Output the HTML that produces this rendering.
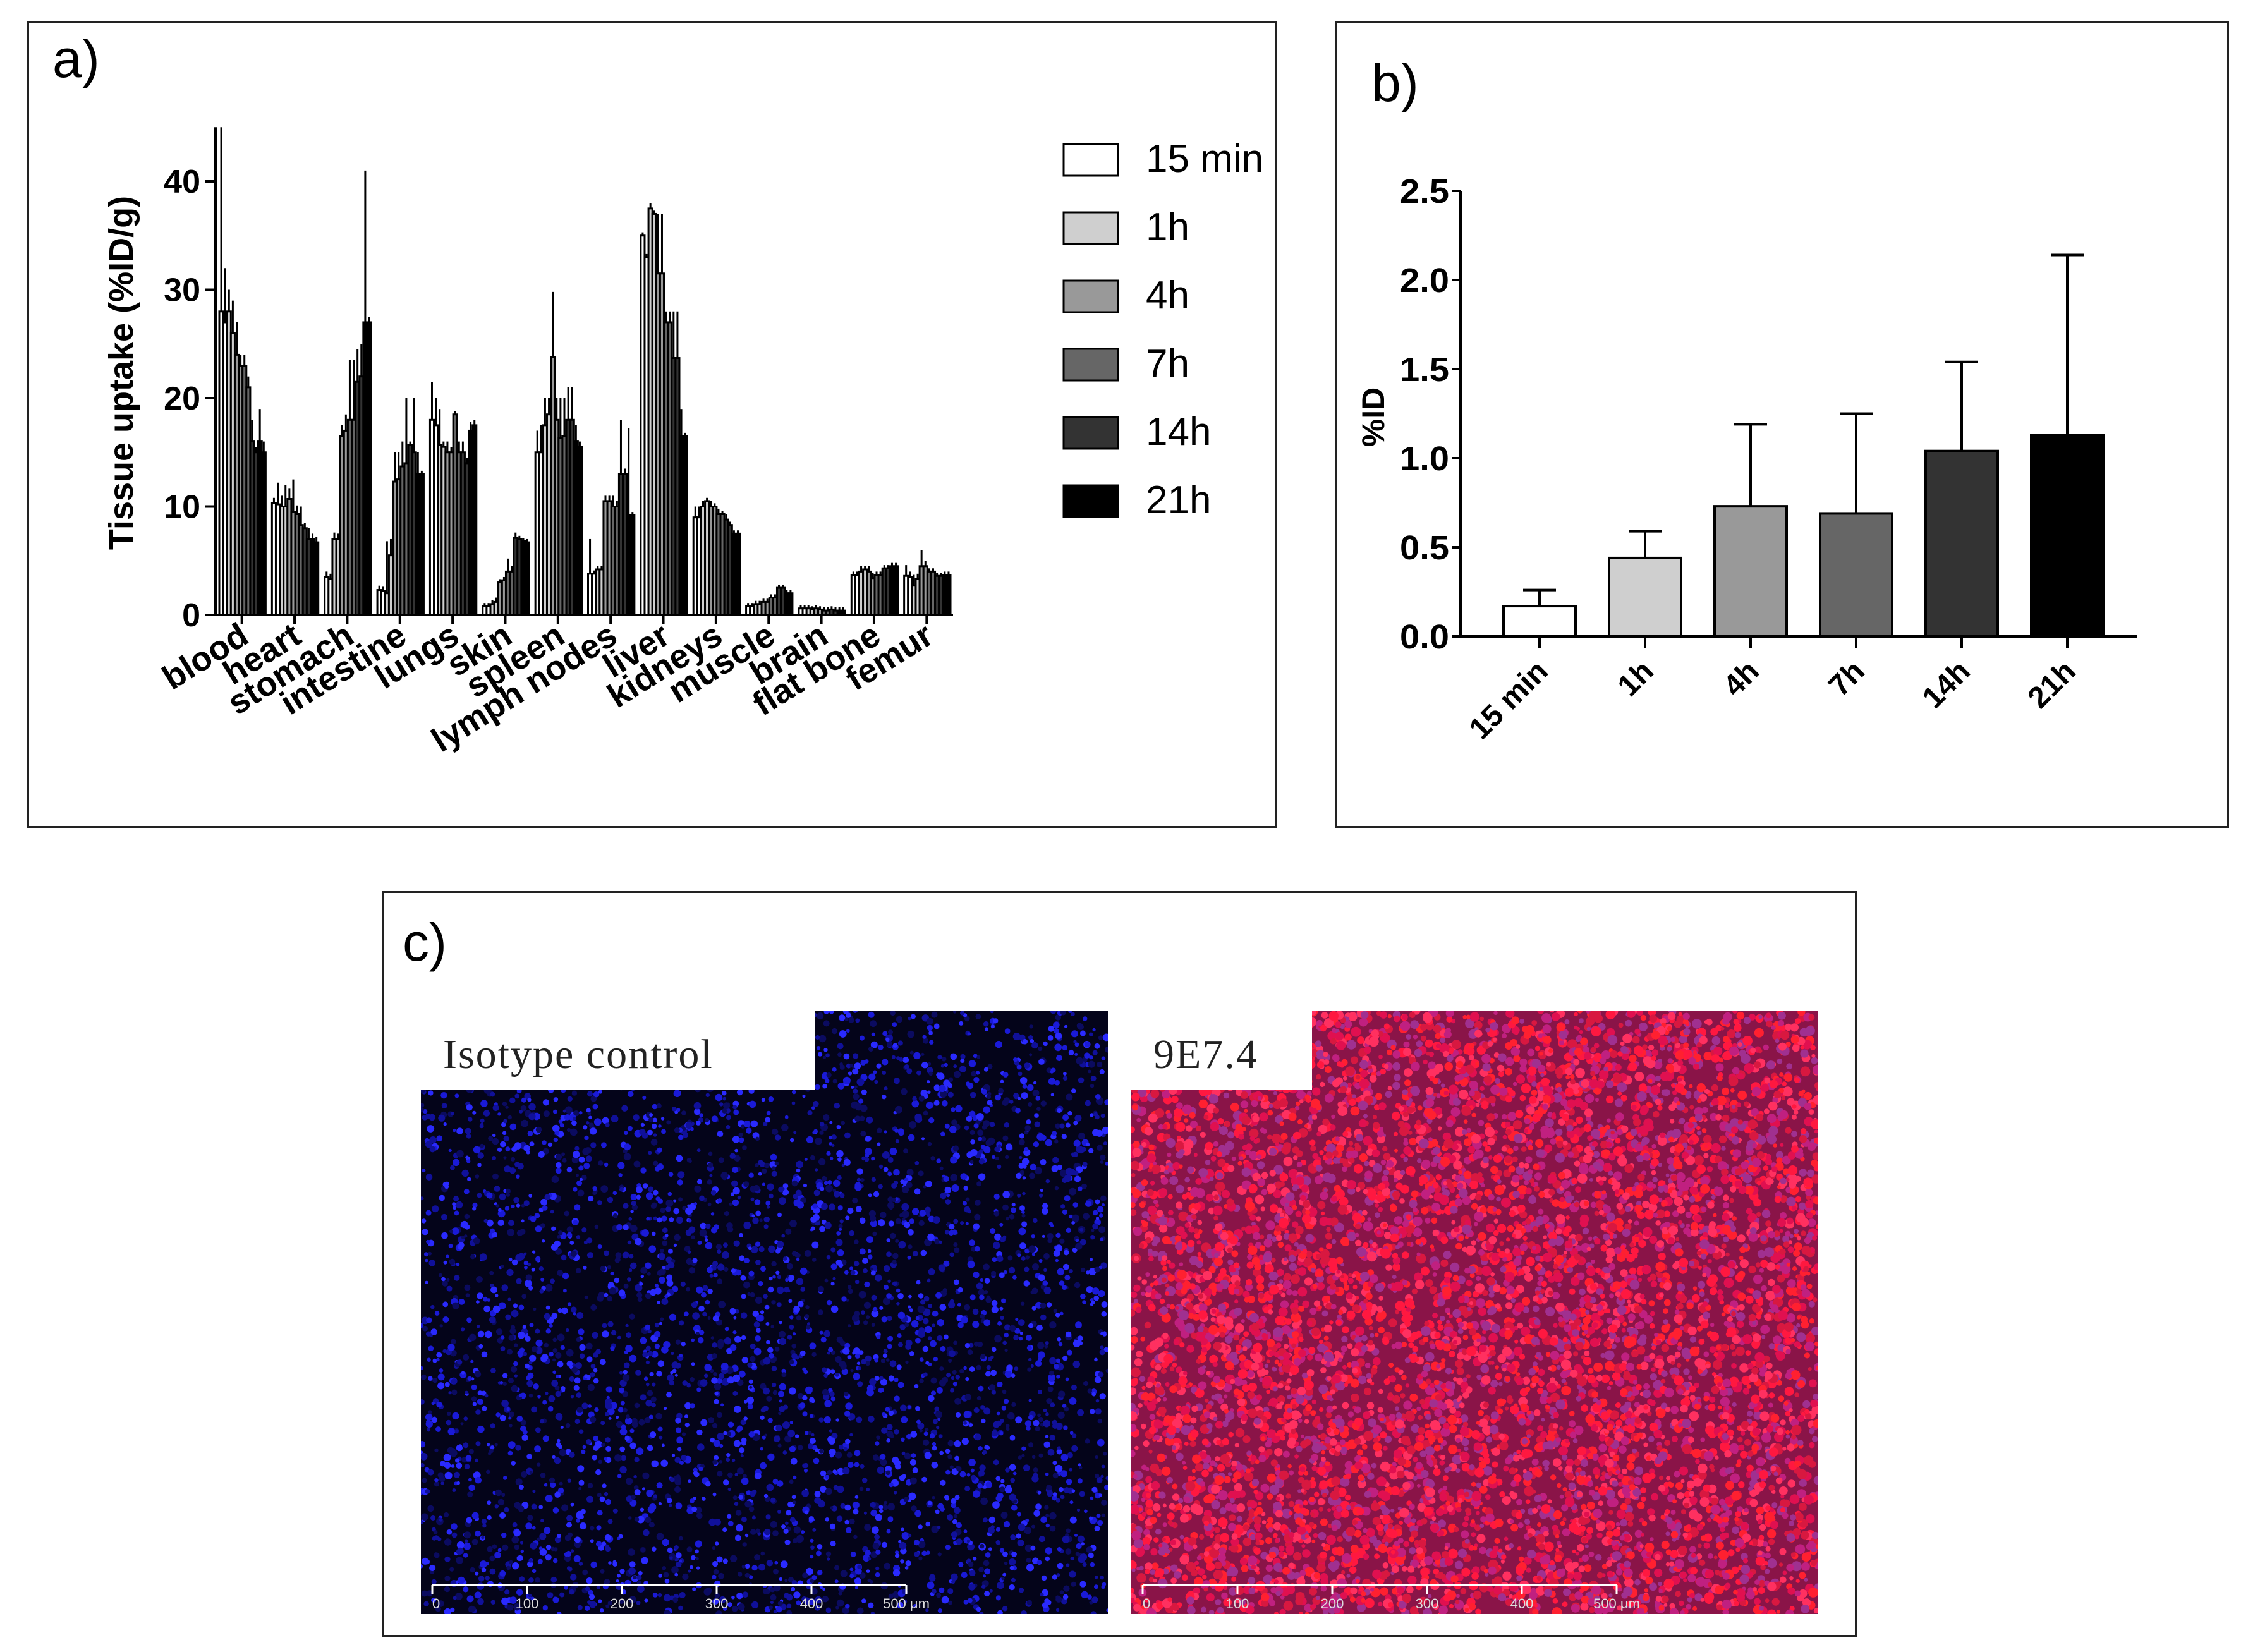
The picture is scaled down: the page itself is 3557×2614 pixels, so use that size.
<!DOCTYPE html>
<html><head><meta charset="utf-8"><style>
html,body{margin:0;padding:0;background:#fff;}
body{width:3557px;height:2614px;position:relative;overflow:hidden;font-family:"Liberation Sans",sans-serif;}
.panel{position:absolute;border:3px solid #222;box-sizing:border-box;background:#fff;}
</style></head><body>
<div class="panel" style="left:43px;top:34px;width:1977px;height:1276px;"></div>
<div class="panel" style="left:2113px;top:34px;width:1414px;height:1276px;"></div>
<div class="panel" style="left:605px;top:1410px;width:2333px;height:1180px;"></div>
<svg id="svg" width="3557" height="2614" style="position:absolute;left:0;top:0" xmlns="http://www.w3.org/2000/svg">
<defs>
<clipPath id="clipL"><rect x="666" y="1599" width="1087" height="955"/></clipPath>
<clipPath id="clipR"><rect x="1790" y="1599" width="1087" height="955"/></clipPath>
</defs>
</svg>
<script>
// ---- Panel a data ----
const organs = ["blood","heart","stomach","intestine","lungs","skin","spleen","lymph nodes","liver","kidneys","muscle","brain","flat bone","femur"];
const timepoints = ["15 min","1h","4h","7h","14h","21h"];
const vBlood=[28,27,28,26,24,23,23,21,16,15,16,15];
const eBlood=[17,5,2,3,3,1,1,1,2,0.5,3,1];
const vHeart=[10.3,10.2,10,10,10.7,9.5,9.3,8.3,8,7,7,6.7];
const eHeart=[0.5,2,1,2,1,3,0.8,1.7,0.5,1,0.5,0.5];
const vStomach=[3.5,3.3,7,7,16.5,17,18,18,21.5,22,27,27];
const eStomach=[0.5,0.5,0.6,0.5,1,1.5,5.5,5.5,3,3,14,0.5];
const vIntestine=[2.3,2.2,2,5.5,12.3,12.5,13.7,14,15.7,15,13,13];
const eIntestine=[0.4,0.4,4.8,1.5,2.7,2.5,2.3,6,0.3,5,2,0.3];
const vLungs=[18,17.5,15.7,15.5,15,15,18.5,15,15,14,17,17.5];
const eLungs=[3.5,2.5,3.3,0.5,1,0.5,0.3,1,1,0.5,0.8,0.5];
const vSkin=[0.8,0.8,1,1.2,3,3.2,4,4,7.1,7,6.8,6.7];
const eSkin=[0.3,0.3,0.4,0.4,0.3,0.3,1.2,0.5,0.5,0.3,0.3,0.3];
const vSpleen=[15,15,17.5,18.5,23.8,18,16.3,16.5,18,18,16,15.5];
const eSpleen=[2,2.5,2.5,1.5,6,2,3.7,3.5,3,3,1.5,0.5];
const vLymph=[3.8,3.8,4.2,4.2,10.5,10.5,10,10,13,13,9.2,9.2];
const eLymph=[3.2,0.3,0.3,0.3,0.5,0.5,1,0.5,5,0.5,8,0.3];
const vLiver=[35,33,37.5,37,31.5,31.5,27,27,23.7,23.7,16.5,16.5];
const eLiver=[0.3,0.3,0.5,0.3,5.5,5.5,1,1,4.3,4.3,2.5,0.3];
const vKidneys=[9,9,10,10.5,10,10,9.3,9.3,8.8,8.3,7.5,7.5];
const eKidneys=[1,1,0.5,0.3,0.5,0.3,0.5,0.3,0.5,0.3,0.3,0.3];
const vMuscle=[0.8,0.8,1,1,1.2,1.2,1.6,1.6,2.5,2.5,2,2];
const eMuscle=[0.3,0.3,0.3,0.3,0.3,0.3,0.3,0.3,0.3,0.3,0.3,0.3];
const vBrain=[0.6,0.6,0.6,0.5,0.6,0.5,0.4,0.4,0.5,0.4,0.4,0.4];
const eBrain=[0.3,0.3,0.3,0.3,0.3,0.3,0.3,0.3,0.3,0.3,0.3,0.3];
const vFlat=[3.7,3.7,4,4.2,4,3.4,3.7,3.7,4.3,4.3,4.5,4.5];
const eFlat=[0.3,0.3,0.5,0.3,0.5,0.5,0.3,0.3,0.3,0.3,0.3,0.3];
const vFemur=[3.6,3.5,2.7,3.3,4.5,4.5,4,4,3.6,3.6,3.7,3.7];
const eFemur=[1,0.5,1,0.5,1.5,0.5,0.3,0.3,0.3,0.3,0.3,0.3];
const aTicks=[0,10,20,30,40];
// ---- Panel b data ----
const bCats=["15 min","1h","4h","7h","14h","21h"];
const bVals=[0.17,0.44,0.73,0.69,1.04,1.13];
const bErrs=[0.09,0.15,0.46,0.56,0.50,1.01];
const bTicks=["0.0","0.5","1.0","1.5","2.0","2.5"];

const NS="http://www.w3.org/2000/svg";
const svg=document.getElementById('svg');
function mk(tag,attrs,parent,txt){const e=document.createElementNS(NS,tag);for(const k in attrs)e.setAttribute(k,attrs[k]);if(txt!==undefined)e.textContent=txt;(parent||svg).appendChild(e);return e;}
const fills=["#ffffff","#cfcfcf","#999999","#666666","#333333","#000000"];

// ---- Panel a ----
const aVals=[vBlood,vHeart,vStomach,vIntestine,vLungs,vSkin,vSpleen,vLymph,vLiver,vKidneys,vMuscle,vBrain,vFlat,vFemur];
const aErrs=[eBlood,eHeart,eStomach,eIntestine,eLungs,eSkin,eSpleen,eLymph,eLiver,eKidneys,eMuscle,eBrain,eFlat,eFemur];
const ax0=341, ax1=1508, ay0=973, aPer=17.15;
const ay=v=>ay0-v*aPer;
const gW=(ax1-ax0)/organs.length;
const ga=mk('g',{});


organs.forEach((o,gi)=>{
  const g0=ax0+gi*gW+6, bw=(gW-10)/12;
  aVals[gi].forEach((v,bi)=>{
    const x=g0+bi*bw;
    const r=mk('rect',{x:x,y:ay(v),width:bw,height:ay0-ay(v),fill:fills[Math.floor(bi/2)],stroke:'#000','stroke-width':3},ga);
    
    
    const cx=x+bw/2, top=ay(v+aErrs[gi][bi]);
    const l=mk('line',{x1:cx,y1:ay(v),x2:cx,y2:top,stroke:'#000','stroke-width':3},ga);
    
    
  });
  const tx=ax0+(gi+0.5)*gW;
  mk('line',{x1:tx,y1:ay0,x2:tx,y2:ay0+14,stroke:'#000','stroke-width':4},ga);
  const t=mk('text',{x:tx+14,y:ay0+42,'text-anchor':'end','font-size':54,'font-weight':'bold',transform:`rotate(-32 ${tx+14} ${ay0+42})`},ga,o);
  
  
});
mk('line',{x1:ax0,y1:ay0,x2:ax1,y2:ay0,stroke:'#000','stroke-width':4},ga);
mk('line',{x1:ax0,y1:ay0,x2:ax0,y2:ay(45),stroke:'#000','stroke-width':4},ga);
aTicks.forEach(t=>{
  mk('line',{x1:ax0-16,y1:ay(t),x2:ax0,y2:ay(t),stroke:'#000','stroke-width':4},ga);
  const e=mk('text',{x:ax0-24,y:ay(t)+18,'text-anchor':'end','font-size':52,'font-weight':'bold'},ga,t);
  
  
});
const yt=mk('text',{x:210,y:590,'text-anchor':'middle','font-size':54,'font-weight':'bold',transform:'rotate(-90 210 590)'},ga,'Tissue uptake (%ID/g)');


const la=mk('text',{x:83,y:122,'font-size':84},ga,'a)');


timepoints.forEach((t,i)=>{
  const y=228+i*108;
  const r=mk('rect',{x:1683,y:y,width:86,height:50,fill:fills[i],stroke:'#000','stroke-width':3},ga);
  
  
  const e=mk('text',{x:1813,y:y+44,'font-size':62},ga,t);
  
  
});

// ---- Panel b ----
const gb=mk('g',{});


const bx0=2311,bx1=3382,by0=1007,bPer=(1007-302)/2.5;
const by=v=>by0-v*bPer;
const bFirst=2436, bStep=167;
bCats.forEach((c,i)=>{
  const cx=bFirst+bStep*i, w=114;
  const top=by(bVals[i]+bErrs[i]);
  mk('line',{x1:cx,y1:by(bVals[i]),x2:cx,y2:top,stroke:'#000','stroke-width':4},gb);
  mk('line',{x1:cx-26,y1:top,x2:cx+26,y2:top,stroke:'#000','stroke-width':4},gb);
  const r=mk('rect',{x:cx-w/2,y:by(bVals[i]),width:w,height:by0-by(bVals[i]),fill:fills[i],stroke:'#000','stroke-width':4},gb);
  
  
  mk('line',{x1:cx,y1:by0,x2:cx,y2:by0+18,stroke:'#000','stroke-width':4},gb);
  const t=mk('text',{x:cx+16,y:by0+58,'text-anchor':'end','font-size':48,'font-weight':'bold',transform:`rotate(-45 ${cx+16} ${by0+58})`},gb,c);
  
  
});
mk('line',{x1:bx0,y1:by0,x2:bx1,y2:by0,stroke:'#000','stroke-width':4},gb);
mk('line',{x1:bx0,y1:by0,x2:bx0,y2:by(2.5),stroke:'#000','stroke-width':4},gb);
bTicks.forEach(t=>{
  const v=parseFloat(t);
  mk('line',{x1:bx0-14,y1:by(v),x2:bx0,y2:by(v),stroke:'#000','stroke-width':4},gb);
  const e=mk('text',{x:bx0-18,y:by(v)+19,'text-anchor':'end','font-size':54,'font-weight':'bold','textLength':78,'lengthAdjust':'spacingAndGlyphs'},gb,t);
  
  
});
const bt=mk('text',{x:2190,y:660,'text-anchor':'middle','font-size':50,'font-weight':'bold',transform:'rotate(-90 2190 660)'},gb,'%ID');


const lb=mk('text',{x:2170,y:160,'font-size':84},gb,'b)');



// ---- Panel c (microscopy texture) ----
const lc=mk('text',{x:637,y:1520,'font-size':84},svg,'c)');


let seed=7;function rnd(){seed=(seed*16807)%2147483647;return seed/2147483647;}
function micro(x0,clip,name,bg,dotCols,n,rmin,rvar,label,lw){
  const g=mk('g',{'clip-path':`url(#${clip})`});
  
  
  mk('rect',{x:x0,y:1599,width:1087,height:955,fill:bg},g);
  let s='';
  for(let i=0;i<n;i++){const x=x0+rnd()*1087,y=1599+rnd()*955;const c=dotCols[Math.floor(rnd()*dotCols.length)];s+=`<circle cx="${x.toFixed(1)}" cy="${y.toFixed(1)}" r="${(rmin+rnd()*rvar).toFixed(1)}" fill="${c}"/>`;}
  const d=mk('g',{},g);d.innerHTML=s;
  mk('rect',{x:x0,y:1599,width:lw,height:125,fill:'#fff'},g);
  const t=mk('text',{x:x0+35,y:1690,'font-size':66,'font-family':'"Liberation Serif",serif',fill:'#222','letter-spacing':'2'},g,label);
  
  
  const sb=x0+18;
  mk('line',{x1:sb,y1:2508,x2:sb+750,y2:2508,stroke:'#fff','stroke-width':3},g);
  for(let k=0;k<=5;k++){mk('line',{x1:sb+k*150,y1:2508,x2:sb+k*150,y2:2522,stroke:'#fff','stroke-width':3},g);
    mk('text',{x:sb+k*150,y:2545,'font-size':22,fill:'#ddd','text-anchor':k?'middle':'start'},g,k==5?'500 μm':String(k*100));}
}
micro(666,'clipL','isotype-control-image','#04041a',['#1a1ad8','#2a2aff','#10109a','#0b0b60'],4200,2.5,3.5,'Isotype control',624);
micro(1790,'clipR','9e7-4-image','#8a1448',['#ff1840','#e01050','#c02080','#ff3060','#a03090','#ff2030','#d81840'],7500,3,5,'9E7.4',286);
</script>
</body></html>
